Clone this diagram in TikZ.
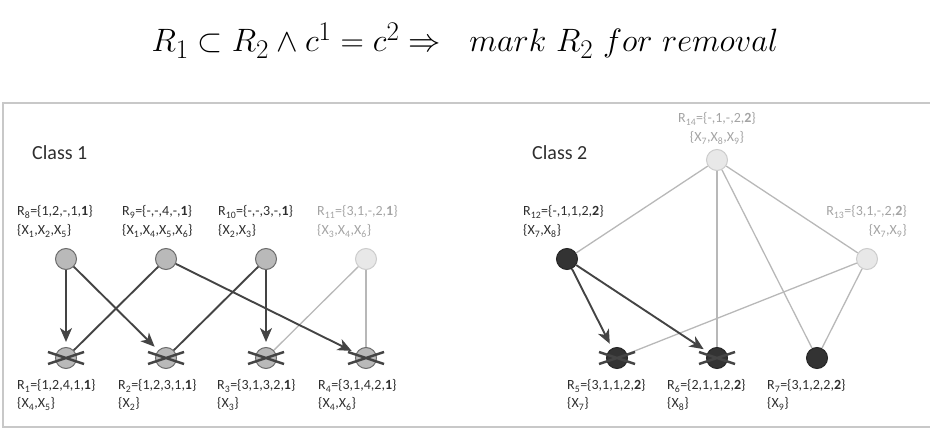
\documentclass[tikz,border=0pt]{standalone}
\usepackage{fontspec}
\setsansfont{Carlito}
\usetikzlibrary{arrows.meta}
\definecolor{txtdark}{HTML}{2E2E2E}
\definecolor{txtlight}{HTML}{A4A4A4}
\definecolor{edgedark}{HTML}{444444}
\definecolor{edgelight}{HTML}{B8B8B8}
\definecolor{framecol}{HTML}{C8C8C8}
\newcommand\Rsub[1]{R\textsubscript{#1}}
\newcommand\Xsub[1]{X\textsubscript{#1}}
\tikzset{
  rnode/.style={circle, minimum size=21pt, inner sep=0pt, line width=1pt},
  graynode/.style={rnode, fill=gray!55, draw=gray!85!black},
  lightnode/.style={rnode, fill=gray!18, draw=gray!40},
  darknode/.style={rnode, fill=black!80, draw=black!85},
  lab/.style={font=\sffamily\fontsize{14}{16}\selectfont, inner sep=0pt, anchor=base west, text=txtdark},
  lablight/.style={lab, text=txtlight},
  classlab/.style={font=\sffamily\fontsize{20}{24}\selectfont, inner sep=0pt, anchor=base west, text=txtdark},
  darkline/.style={draw=edgedark, line width=1.9pt},
  darkarrow/.style={darkline, -{Stealth[length=14pt,width=12pt,inset=4pt]}, shorten >=5pt},
  lightline/.style={draw=edgelight, line width=1.3pt},
  xmark/.style={draw=edgedark, line width=2.5pt},
}
\begin{document}
\begin{tikzpicture}[x=1pt,y=-1pt]
\useasboundingbox (0,0) rectangle (930,438);
% title
\node[anchor=base, inner sep=0pt, scale=1.3] (title) at (465,52) {\fontsize{24.88}{30}\selectfont $R_1\subset R_2\wedge c^1=c^2\Rightarrow\ \ mark\ R_2\ for\ removal$};
% frame
\draw[framecol, line width=1.5pt] (935,103) -- (3,103) -- (3,427) -- (935,427);
% class labels
\node[classlab] (c1) at (32,160) {Class 1};
\node[classlab] (c2) at (532,160) {Class 2};
% class 1 nodes
\node[graynode] (r8) at (66,259) {};
\node[graynode] (r9) at (166,259) {};
\node[graynode] (r10) at (266,259) {};
\node[lightnode] (r11) at (366,259) {};
\node[graynode] (r1) at (66,358) {};
\node[graynode] (r2) at (166,358) {};
\node[graynode] (r3) at (266,358) {};
\node[graynode] (r4) at (366,358) {};
% class 2 nodes
\node[lightnode] (r14) at (717,160) {};
\node[darknode] (r12) at (567,259) {};
\node[lightnode] (r13) at (867,259) {};
\node[darknode] (r5) at (617,358) {};
\node[darknode] (r6) at (717,358) {};
\node[darknode] (r7) at (817,358) {};
% labels class 1 top
\node[lab] (l8a) at (17,216) {\Rsub{8}=\{1,2,-,1,\textbf{1}\}};
\node[lab] (l8b) at (17,235) {\{\Xsub{1},\Xsub{2},\Xsub{5}\}};
\node[lab] (l9a) at (122,216) {\Rsub{9}=\{-,-,4,-,\textbf{1}\}};
\node[lab] (l9b) at (122,235) {\{\Xsub{1},\Xsub{4},\Xsub{5},\Xsub{6}\}};
\node[lab] (l10a) at (218,216) {\Rsub{10}=\{-,-,3,-,\textbf{1}\}};
\node[lab] (l10b) at (218,235) {\{\Xsub{2},\Xsub{3}\}};
\node[lablight] (l11a) at (317,216) {\Rsub{11}=\{3,1,-,2,\textbf{1}\}};
\node[lablight] (l11b) at (317,235) {\{\Xsub{3},\Xsub{4},\Xsub{6}\}};
% labels class 1 bottom
\node[lab] (l1a) at (17,390) {\Rsub{1}=\{1,2,4,1,\textbf{1}\}};
\node[lab] (l1b) at (17,408) {\{\Xsub{4},\Xsub{5}\}};
\node[lab] (l2a) at (118,390) {\Rsub{2}=\{1,2,3,1,\textbf{1}\}};
\node[lab] (l2b) at (118,408) {\{\Xsub{2}\}};
\node[lab] (l3a) at (217,390) {\Rsub{3}=\{3,1,3,2,\textbf{1}\}};
\node[lab] (l3b) at (217,408) {\{\Xsub{3}\}};
\node[lab] (l4a) at (318,390) {\Rsub{4}=\{3,1,4,2,\textbf{1}\}};
\node[lab] (l4b) at (318,408) {\{\Xsub{4},\Xsub{6}\}};
% labels class 2
\node[lablight, anchor=base] (l14a) at (717,123) {\Rsub{14}=\{-,1,-,2,\textbf{2}\}};
\node[lablight, anchor=base] (l14b) at (717,142) {\{\Xsub{7},\Xsub{8},\Xsub{9}\}};
\node[lab] (l12a) at (523,216) {\Rsub{12}=\{-,1,1,2,\textbf{2}\}};
\node[lab] (l12b) at (523,235) {\{\Xsub{7},\Xsub{8}\}};
\node[lablight, anchor=base east] (l13a) at (907,216) {\Rsub{13}=\{3,1,-,2,\textbf{2}\}};
\node[lablight, anchor=base east] (l13b) at (907,235) {\{\Xsub{7},\Xsub{9}\}};
\node[lab] (l5a) at (567,390) {\Rsub{5}=\{3,1,1,2,\textbf{2}\}};
\node[lab] (l5b) at (567,408) {\{\Xsub{7}\}};
\node[lab] (l6a) at (667,390) {\Rsub{6}=\{2,1,1,2,\textbf{2}\}};
\node[lab] (l6b) at (667,408) {\{\Xsub{8}\}};
\node[lab] (l7a) at (767,390) {\Rsub{7}=\{3,1,2,2,\textbf{2}\}};
\node[lab] (l7b) at (767,408) {\{\Xsub{9}\}};
% edges class 1
\draw[lightline] (r11) -- (r3);
\draw[lightline] (r11) -- (r4);
\draw[darkline] (r9) -- (r1);
\draw[darkline] (r10) -- (r2);
\draw[darkarrow] (r8) -- (r1);
\draw[darkarrow] (r8) -- (r2);
\draw[darkarrow] (r9) -- (r4);
\draw[darkarrow] (r10) -- (r3);
% edges class 2
\draw[lightline] (r14) -- (r12);
\draw[lightline] (r14) -- (r6);
\draw[lightline] (r14) -- (r7);
\draw[lightline] (r14) -- (r13);
\draw[lightline] (r13) -- (r5);
\draw[lightline] (r13) -- (r7);
\draw[darkarrow] (r12) -- (r5);
\draw[darkarrow] (r12) -- (r6);
% removal marks
\foreach \n in {r1,r2,r3,r4,r5,r6}{
  \draw[xmark, shift={(\n)}] (-18,-6) -- (18,6) (-18,6) -- (18,-6);
}
\end{tikzpicture}
\end{document}
